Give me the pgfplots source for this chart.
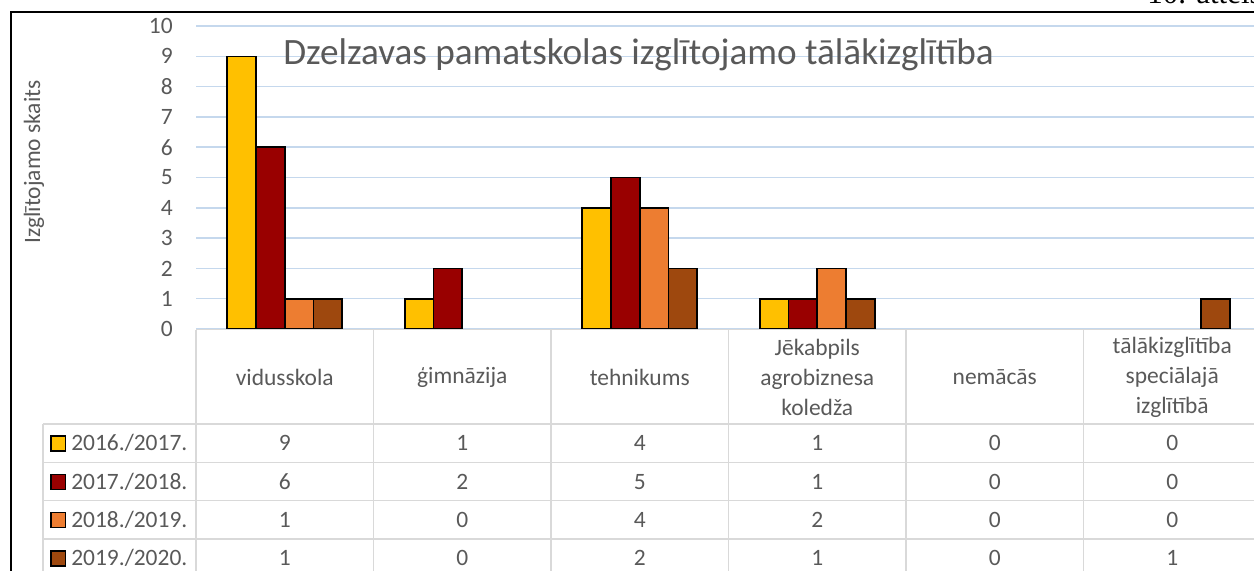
\documentclass[border=0pt]{standalone}
\usepackage{fontspec}
\setmainfont{Carlito}
\newfontfamily\seriffont{Liberation Serif}
\usepackage{pgfplots}
\usepackage{pgfplotstable}
\pgfplotsset{compat=1.18}
\definecolor{c1}{HTML}{FFC000}
\definecolor{c2}{HTML}{990000}
\definecolor{c3}{HTML}{ED7D31}
\definecolor{c4}{HTML}{9E480E}
\definecolor{txt}{HTML}{595959}
\definecolor{gridc}{RGB}{197,216,237}
\definecolor{tline}{HTML}{D9D9D9}
\pgfplotstableread{
x a b c d
0 9 6 1 1
1 1 2 0 0
2 4 5 4 2
3 1 1 2 1
4 0 0 0 0
5 0 0 0 1
}\datatable
\newcommand{\tf}{\fontsize{17.6}{22.5}\selectfont}
\begin{document}
\begin{tikzpicture}[x=0.75pt,y=-0.75pt]
\useasboundingbox (0,0) rectangle (1254,571);
\clip (0,0) rectangle (1254,571);
\coordinate (A) at (196,329);
\begin{axis}[
  at={(A)}, anchor=south west,
  scale only axis, width=798.75pt, height=227.25pt,
  xmin=-0.5, xmax=5.5, ymin=0, ymax=10,
  ybar=0pt, bar width=21.56pt,
  axis line style={draw=none},
  major tick length=0pt,
  xtick=\empty,
  ytick={0,1,...,10},
  ymajorgrids,
  grid style={gridc, line width=1.1pt},
  /pgf/number format/assume math mode=true,
  yticklabel style={font=\tf, text=txt, anchor=east, inner sep=0pt, xshift=-17.25pt},
  restrict y to domain=0.01:20,
  clip=false,
]
\addplot[fill=c1, draw=black, line width=1.2pt] table[x=x,y=a]{\datatable};
\addplot[fill=c2, draw=black, line width=1.2pt] table[x=x,y=b]{\datatable};
\addplot[fill=c3, draw=black, line width=1.2pt] table[x=x,y=c]{\datatable};
\addplot[fill=c4, draw=black, line width=1.2pt] table[x=x,y=d]{\datatable};
\end{axis}
% table grid
\begin{scope}[tline, line width=1.1pt]
\foreach \k in {0,...,6} \draw ({196+177.5*\k},329.5) -- ({196+177.5*\k},580);
\draw (196,329.5) -- (1270,329.5);
\foreach \yy in {424,462.3,500.6,539} \draw (43,\yy) -- (1270,\yy);
\draw (43,424) -- (43,580);
\end{scope}
% header labels
\begin{scope}[every node/.style={align=center, text=txt, font=\tf, inner sep=0pt}]
\node at ({196+177.5*0.5},377) {vidusskola};
\node at ({196+177.5*1.5},377) {ģimnāzija};
\node at ({196+177.5*2.5},377) {tehnikums};
\node at ({196+177.5*3.5},377) {Jēkabpils\\agrobiznesa\\koledža};
\node at ({196+177.5*4.5},377) {nemācās};
\node at ({196+177.5*5.5},377) {tālākizglītība\\speciālajā\\izglītībā};
\end{scope}
% values
\foreach \s/\r in {a/0,b/1,c/2,d/3}{
  \foreach \i in {0,...,5}{
    \pgfplotstablegetelem{\i}{\s}\of\datatable
    \node[anchor=base, text=txt, font=\tf, inner sep=0pt] at ({196+177.5*(\i+0.5)},{443.5+38.3*\r+7.4}) {\pgfplotsretval};
  }
}
% legend
\foreach \r/\col in {0/c1,1/c2,2/c3,3/c4}{
  \draw[fill=\col, draw=black, line width=0.9pt] (51,{443.5+38.3*\r-7.5}) rectangle (65.5,{443.5+38.3*\r+7.5});
}
\begin{scope}[every node/.style={anchor=base west, text=txt, font=\tf, inner sep=0pt}]
\node at (71,{443.5+7.4}) {2016./2017.};
\node at (71,{443.5+38.3+7.4}) {2017./2018.};
\node at (71,{443.5+38.3*2+7.4}) {2018./2019.};
\node at (71,{443.5+38.3*3+7.4}) {2019./2020.};
\end{scope}
% title
\node[anchor=base west, inner sep=0pt, text=txt, font=\fontsize{27.9}{33}\selectfont] at (283,64) {Dzelzavas pamatskolas izglītojamo tālākizglītība};
% y label
\node[rotate=90, text=txt, font=\tf, inner sep=0pt] at (34,162) {Izglītojamo skaits};
% frame
\draw[black, line width=1.5pt] (11,580) -- (11,11.7) -- (1270,11.7);
% figure caption
\node[anchor=base west, inner sep=0pt, font=\seriffont\fontsize{23.25}{28}\selectfont] at (1147,3.5) {10. attēls};
\end{tikzpicture}
\end{document}
